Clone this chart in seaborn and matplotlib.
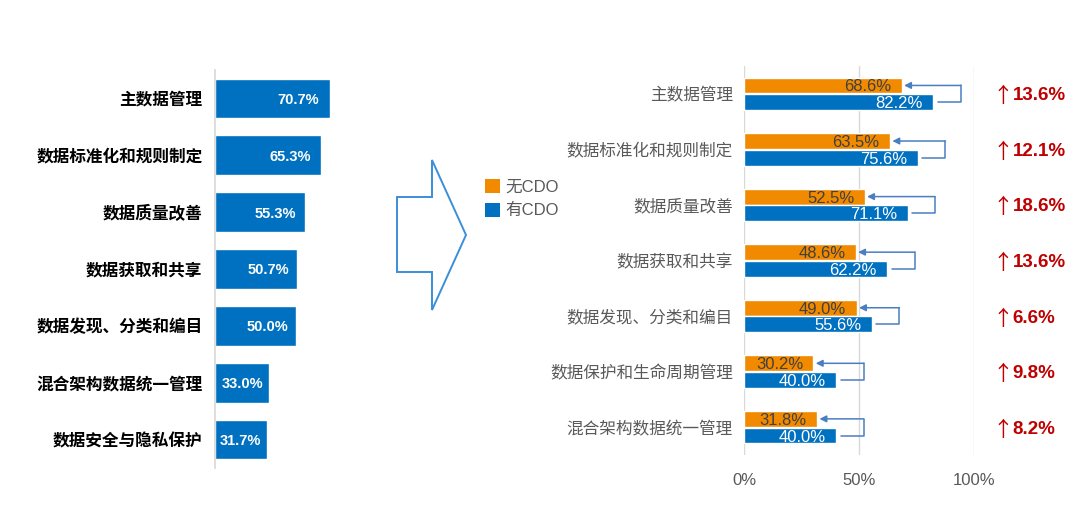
import matplotlib
matplotlib.use('Agg')
import pandas as pd
import matplotlib.pyplot as plt
import seaborn as sns
from matplotlib.patches import Polygon, Patch

# 左图：各项数据管理工作占比
left_labels = ['主数据管理', '数据标准化和规则制定', '数据质量改善', '数据获取和共享',
               '数据发现、分类和编目', '混合架构数据统一管理', '数据安全与隐私保护']
left_values = [70.7, 65.3, 55.3, 50.7, 50.0, 33.0, 31.7]

# 右图：有/无CDO对比
right_labels = ['主数据管理', '数据标准化和规则制定', '数据质量改善', '数据获取和共享',
                '数据发现、分类和编目', '数据保护和生命周期管理', '混合架构数据统一管理']
no_cdo = [68.6, 63.5, 52.5, 48.6, 49.0, 30.2, 31.8]
has_cdo = [82.2, 75.6, 71.1, 62.2, 55.6, 40.0, 40.0]
groups = ['无CDO', '有CDO']
x_ticks = [0, 50, 100]

BLUE = '#0070C0'
ORANGE = '#F28A00'
GREY = '#595959'
RED = '#C00000'
LINE = '#4A7EC2'

sns.set_theme(style='white')
plt.rcParams['font.family'] = ['Liberation Sans', 'Noto Sans CJK SC', 'DejaVu Sans']

W, H = 1080, 527
fig = plt.figure(figsize=(W / 100, H / 100), dpi=100)

def px_axes(x0, y0, x1, y1):
    return fig.add_axes([x0 / W, 1 - y1 / H, (x1 - x0) / W, (y1 - y0) / H])

# ---- 左图
ax1 = px_axes(215, 70, 340, 468)
sns.barplot(x=left_values, y=left_labels, orient='h', color=BLUE, saturation=1,
            width=0.7, ax=ax1)
ax1.set_xlim(0, 125 / 1.627)
ax1.set_ylim(6.5, -0.5)
for s in ['top', 'right', 'bottom']:
    ax1.spines[s].set_visible(False)
ax1.spines['left'].set_color('#D9D9D9')
ax1.set_xticks([])
ax1.set_xlabel('')
ax1.tick_params(axis='y', length=0, pad=9)
for t in ax1.get_yticklabels():
    t.set_fontsize(12)
    t.set_fontweight('bold')
    t.set_color('black')
for i, v in enumerate(left_values):
    ax1.text(v * 0.9, i, f'{v:.1f}%', ha='right', va='center_baseline', color='white',
             fontsize=10.5, fontweight='bold')

# ---- 中间空心箭头
arrow_px = [(397, 197), (432, 197), (432, 160), (466, 235), (432, 310), (432, 272), (397, 272)]
fig.patches.append(Polygon([(x / W, 1 - y / H) for x, y in arrow_px], closed=True,
                           fill=False, edgecolor='#3A8FD9', linewidth=1.4,
                           transform=fig.transFigure))

# 图例
handles = [Patch(facecolor=ORANGE, edgecolor='none'), Patch(facecolor=BLUE, edgecolor='none')]
leg = fig.legend(handles, groups, loc='upper left', bbox_to_anchor=(478 / W, 1 - 172 / H),
                 frameon=False, fontsize=12, handlelength=0.9, handleheight=0.9,
                 handletextpad=0.35, labelspacing=0.5, borderaxespad=0)
for t in leg.get_texts():
    t.set_color(GREY)

# ---- 右图
df = pd.DataFrame({
    'item': right_labels * 2,
    'value': no_cdo + has_cdo,
    'group': [groups[0]] * len(no_cdo) + [groups[1]] * len(has_cdo),
})
ax2 = px_axes(744, 66, 974, 455)
sns.barplot(data=df, x='value', y='item', hue='group', hue_order=groups,
            palette=[ORANGE, BLUE], saturation=1, width=0.6, gap=0.05,
            orient='h', legend=False, ax=ax2)
ax2.set_xlim(0, 100)
ax2.set_ylim(6.5, -0.5)
ax2.set_xticks(x_ticks)
ax2.set_xticklabels([f'{t}%' for t in x_ticks])
ax2.grid(axis='x', color='#D9D9D9', linewidth=1)
ax2.set_axisbelow(True)
for s in ax2.spines.values():
    s.set_visible(False)
ax2.set_xlabel('')
ax2.set_ylabel('')
ax2.tick_params(axis='x', length=0, pad=13, labelsize=12, labelcolor=GREY)
ax2.tick_params(axis='y', length=0, pad=8, labelsize=12, labelcolor=GREY)

off = 0.15
for i, (a, b) in enumerate(zip(no_cdo, has_cdo)):
    ya, yb = i - off, i + off
    ax2.text(a - 4.5, ya, f'{a:.1f}%', ha='right', va='center_baseline', color='#404040', fontsize=12)
    ax2.text(b - 4.5, yb, f'{b:.1f}%', ha='right', va='center_baseline', color='white', fontsize=12)
    # 连接线：蓝条末端 -> 橙条末端
    bx = b + 12
    ax2.plot([b + 2, bx, bx], [yb, yb, ya], color=LINE, linewidth=1.1, clip_on=False)
    ax2.annotate('', xy=(a + 1, ya), xytext=(bx, ya),
                 arrowprops=dict(arrowstyle='-|>', color=LINE, lw=1.1,
                                 mutation_scale=10, shrinkA=0, shrinkB=0),
                 annotation_clip=False)
    # 提升幅度
    ax2.text(112.4, i, '↑', ha='center', va='center_baseline', color=RED, fontsize=15,
             family=['Noto Sans CJK SC', 'DejaVu Sans'], clip_on=False)
    ax2.text(116.8, i, f'{b - a:.1f}%', ha='left', va='center_baseline', color=RED,
             fontsize=13.5, fontweight='bold', clip_on=False)

fig.savefig('out.png', dpi=100)
